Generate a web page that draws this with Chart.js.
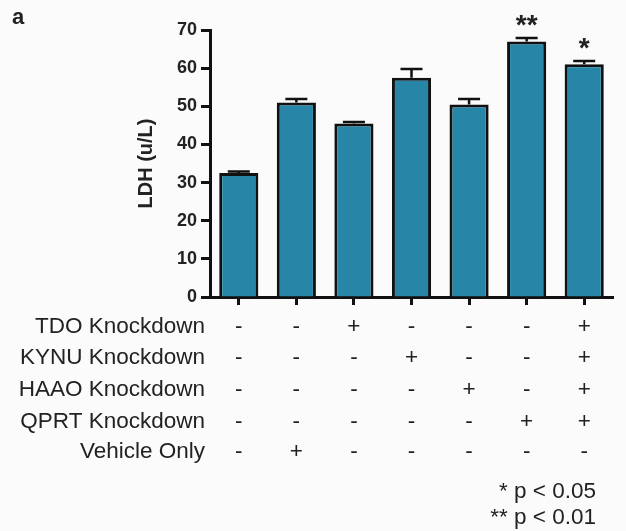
<!DOCTYPE html>
<html>
<head>
<meta charset="utf-8">
<script src="https://cdn.jsdelivr.net/npm/chart.js@4.4.1/dist/chart.umd.min.js"></script>
<style>
  html, body { margin: 0; padding: 0; background: #fbfbfb; }
  #wrap { width: 626px; height: 531px; }
</style>
</head>
<body>
<div id="wrap"><canvas id="ldhChart" width="626" height="531"></canvas></div>
<script>
// data
const groups = ['G1', 'G2', 'G3', 'G4', 'G5', 'G6', 'G7'];
const ldhMeans = [32.5, 51, 45.5, 57.5, 50.5, 67, 61];
const ldhErrors = [0.4, 0.9, 0.4, 2.3, 1.4, 0.9, 0.9];
const significance = ['', '', '', '', '', '**', '*'];
const yTicks = [0, 10, 20, 30, 40, 50, 60, 70];

const rowLabels = ['TDO Knockdown', 'KYNU Knockdown', 'HAAO Knockdown', 'QPRT Knockdown', 'Vehicle Only'];
const tdoRow = ['-', '-', '+', '-', '-', '-', '+'];
const kynuRow = ['-', '-', '-', '+', '-', '-', '+'];
const haaoRow = ['-', '-', '-', '-', '+', '-', '+'];
const qprtRow = ['-', '-', '-', '-', '-', '+', '+'];
const vehicleRow = ['-', '+', '-', '-', '-', '-', '-'];
const footnotes = ['* p < 0.05', '** p < 0.01'];

const rows = [tdoRow, kynuRow, haaoRow, qprtRow, vehicleRow];
const font = 'Arial, "Liberation Sans", sans-serif';

// error bars, stars, treatment table and panel letter
const extrasPlugin = {
    id: 'extras',
    afterDatasetsDraw(chart) {
        const ctx = chart.ctx;
        const x = chart.scales.x;
        const y = chart.scales.y;
        ctx.save();
        ctx.strokeStyle = '#111';
        ctx.lineWidth = 2.5;
        ctx.fillStyle = '#222';
        ldhMeans.forEach((v, i) => {
            const cx = x.getPixelForValue(i);
            const top = y.getPixelForValue(v + ldhErrors[i]);
            const base = y.getPixelForValue(v);
            ctx.beginPath();
            ctx.moveTo(cx, base);
            ctx.lineTo(cx, top);
            ctx.moveTo(cx - 11, top);
            ctx.lineTo(cx + 11, top);
            ctx.stroke();
            if (significance[i]) {
                ctx.font = 'bold 28px ' + font;
                ctx.textAlign = 'center';
                ctx.textBaseline = 'alphabetic';
                ctx.fillText(significance[i], cx, top - 4);
            }
        });

        // treatment table
        ctx.font = '22.5px ' + font;
        ctx.fillStyle = '#222';
        ctx.textBaseline = 'middle';
        const rowY = [327, 358, 390, 422, 452];
        rows.forEach((row, r) => {
            ctx.textAlign = 'right';
            ctx.fillText(rowLabels[r], 205, rowY[r]);
            ctx.textAlign = 'center';
            row.forEach((s, i) => {
                ctx.fillText(s, x.getPixelForValue(i), rowY[r]);
            });
        });
        ctx.textAlign = 'right';
        ctx.fillText(footnotes[0], 596, 492);
        ctx.fillText(footnotes[1], 596, 518);

        ctx.font = 'bold 22px ' + font;
        ctx.textAlign = 'left';
        ctx.textBaseline = 'alphabetic';
        ctx.fillText('a', 12, 24);
        ctx.restore();
    }
};

const ldhChartConfig = {
    type: 'bar',
    data: {
        labels: groups,
        datasets: [{
            data: ldhMeans,
            backgroundColor: '#2786a7',
            borderColor: '#111',
            borderWidth: 3,
            borderSkipped: 'bottom',
            categoryPercentage: 1,
            barPercentage: 0.68
        }]
    },
    options: {
        responsive: false,
        animation: false,
        layout: { padding: { top: 30, right: 13, bottom: 0, left: 0 } },
        plugins: {
            legend: { display: false },
            tooltip: { enabled: false }
        },
        scales: {
            x: {
                grid: {
                    offset: false,
                    drawOnChartArea: false,
                    drawTicks: true,
                    tickLength: 8,
                    tickWidth: 3,
                    tickColor: '#111'
                },
                border: { color: '#111', width: 3 },
                ticks: { display: false },
                afterFit(scale) { scale.height = 234; }
            },
            y: {
                min: 0,
                max: 70,
                afterBuildTicks(scale) { scale.ticks = yTicks.map(v => ({ value: v })); },
                grid: {
                    drawOnChartArea: false,
                    drawTicks: true,
                    tickLength: 9,
                    tickWidth: 3,
                    tickColor: '#111'
                },
                border: { color: '#111', width: 3 },
                ticks: {
                    color: '#222',
                    padding: 4,
                    font: { family: font, size: 18, weight: 'bold' }
                },
                title: {
                    display: true,
                    text: 'LDH (u/L)',
                    color: '#222',
                    font: { family: font, size: 20, weight: 'bold' },
                    padding: { top: 134, bottom: 0 }
                },
                afterFit(scale) { scale.width = 210; }
            }
        }
    },
    plugins: [extrasPlugin]
};

window.onload = function () {
    const ctx = document.getElementById('ldhChart').getContext('2d');
    new Chart(ctx, ldhChartConfig);
};
</script>
</body>
</html>
